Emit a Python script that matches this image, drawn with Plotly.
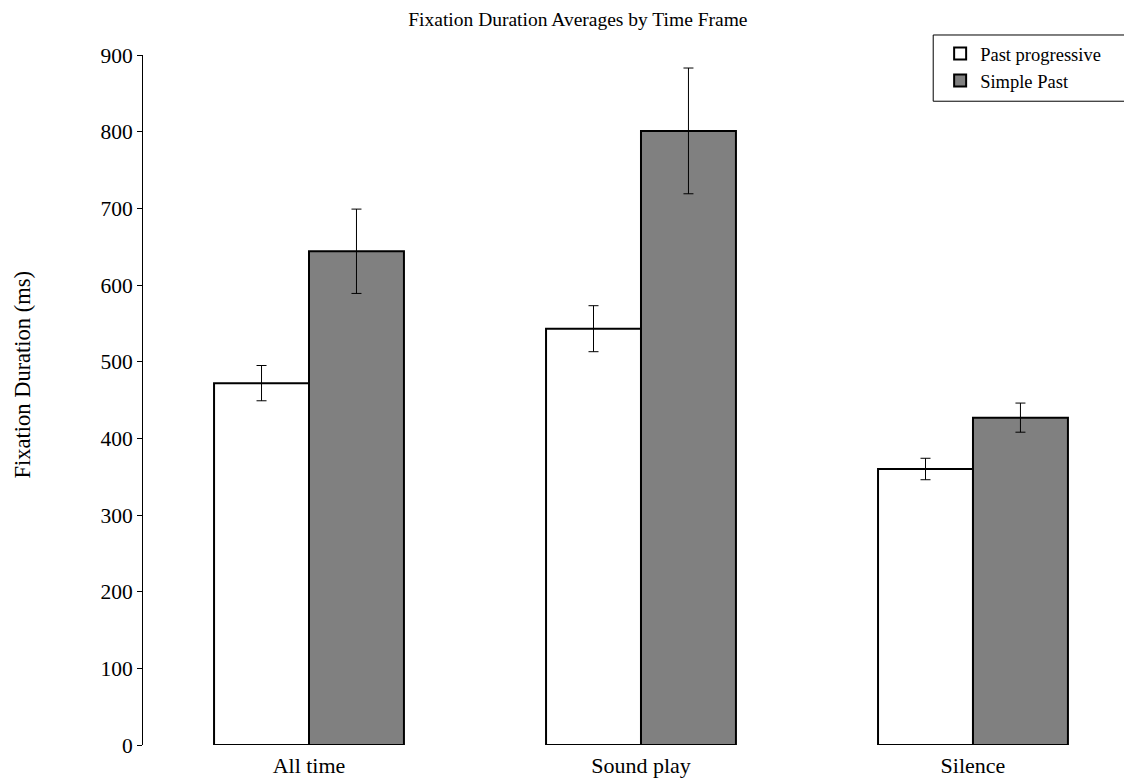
import plotly.graph_objects as go

categories = ["All time", "Sound play", "Silence"]
past_progressive = [472, 543, 360]
past_progressive_err = [23, 30, 14]
simple_past = [644, 801, 427]
simple_past_err = [55, 82, 19]

font_family = "Liberation Serif, Times New Roman, serif"

fig = go.Figure()
fig.add_trace(go.Bar(
    x=categories, y=past_progressive, name="Past progressive",
    marker=dict(color="white", line=dict(color="black", width=2)),
    error_y=dict(type="data", array=past_progressive_err, color="black", thickness=1, width=5),
))
fig.add_trace(go.Bar(
    x=categories, y=simple_past, name="Simple Past",
    marker=dict(color="#808080", line=dict(color="black", width=2)),
    error_y=dict(type="data", array=simple_past_err, color="black", thickness=1, width=5),
))

# legend frame (extends past the right edge as in the reference)
fig.add_shape(type="rect", xref="paper", yref="paper", x0=0.799, x1=1.05, y0=0.933, y1=1.029,
              line=dict(color="black", width=1), fillcolor="white", layer="below")

fig.add_annotation(text="Fixation Duration (ms)", textangle=-90, xref="paper", yref="paper",
                   x=-0.122, y=0.536, xanchor="center", yanchor="middle", showarrow=False,
                   font=dict(size=22.5, family=font_family))

fig.update_layout(
    width=1124, height=774,
    margin=dict(l=135, r=0, t=47, b=37, autoexpand=False),
    paper_bgcolor="white", plot_bgcolor="rgba(0,0,0,0)",
    barmode="group", bargap=0.428, bargroupgap=0,
    font=dict(family=font_family, color="black"),
    title=dict(text="Fixation Duration Averages by Time Frame", x=0.507, xanchor="center",
               y=1.0, yanchor="top", pad=dict(t=4), font=dict(size=19.5, family=font_family)),
    legend=dict(x=0.806, y=1.029, xanchor="left", yanchor="top",
                borderwidth=0, bgcolor="rgba(0,0,0,0)",
                font=dict(size=18.5, family=font_family), itemwidth=30,
                tracegroupgap=0),
    showlegend=True,
)
fig.update_xaxes(range=[-0.5, 2.479], showline=False, ticks="", showgrid=False,
                 tickfont=dict(size=22, family=font_family), zeroline=False, automargin=False,
                 ticklabelstandoff=5)
fig.update_yaxes(range=[0, 900], dtick=100, showline=True, linecolor="black", linewidth=1,
                 ticks="outside", ticklen=5, tickcolor="black", showgrid=False, zeroline=False,
                 tickfont=dict(size=21.5, family=font_family), automargin=False)

fig.write_html("out.html")
